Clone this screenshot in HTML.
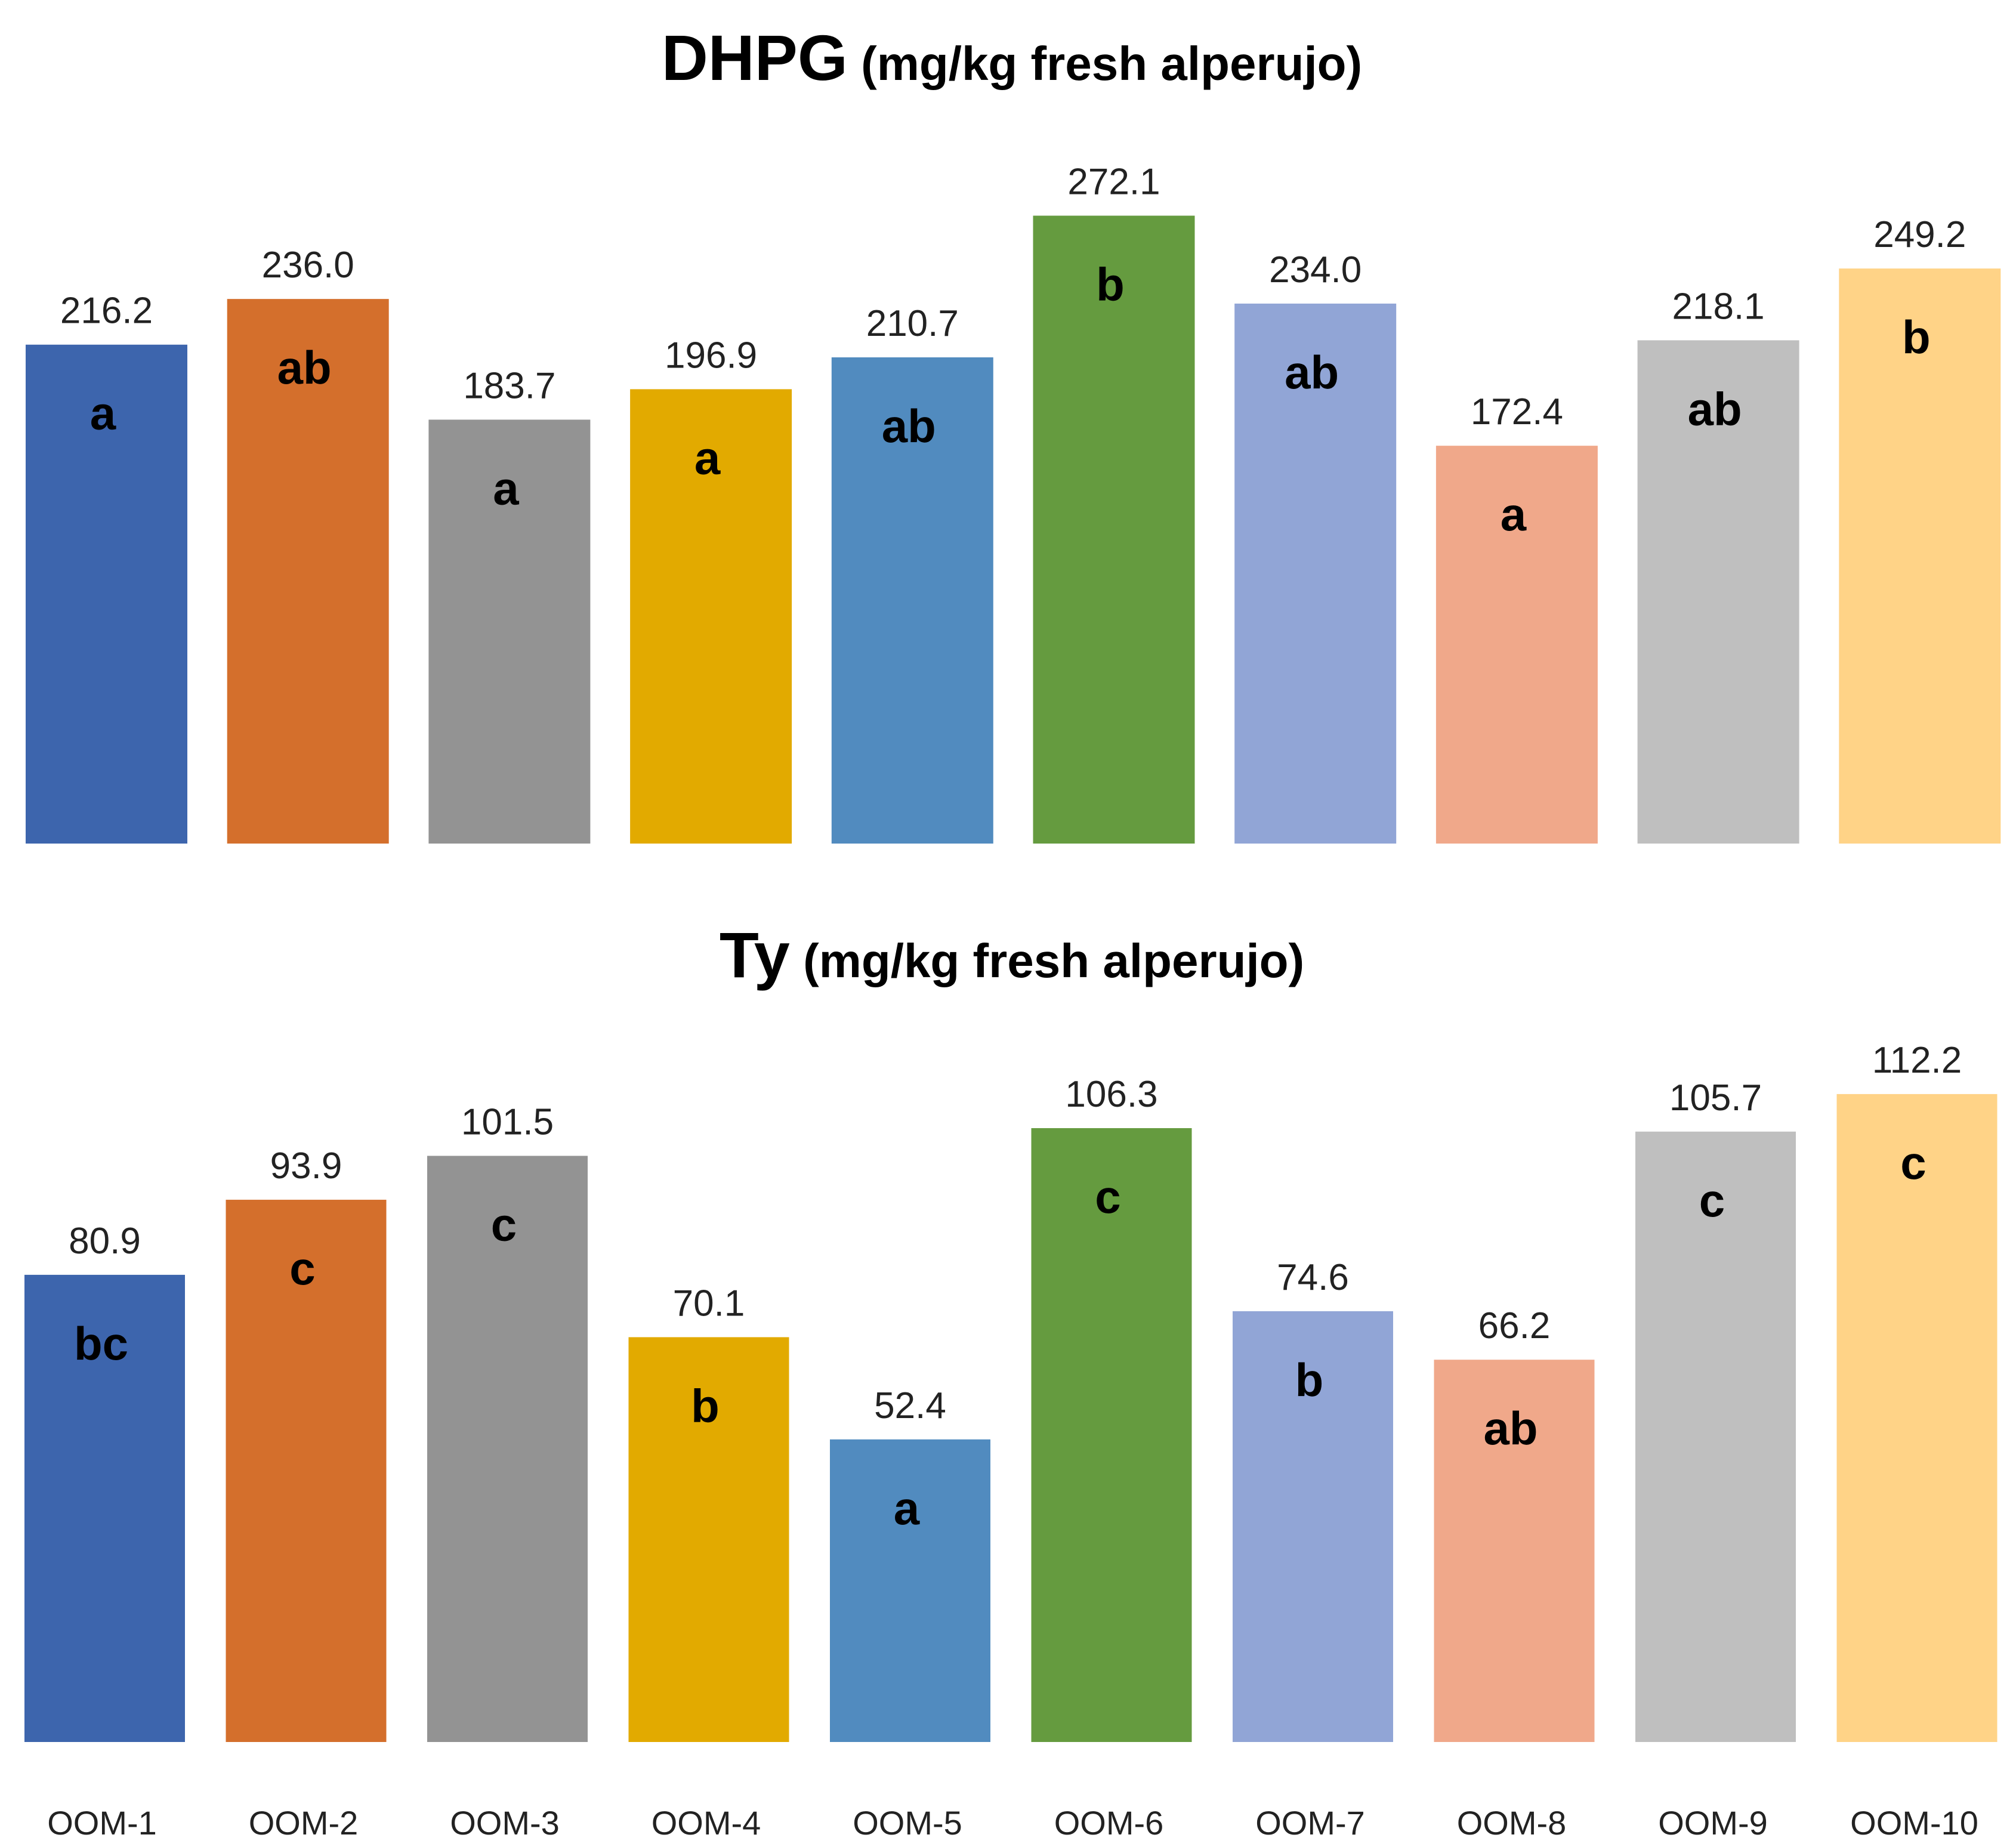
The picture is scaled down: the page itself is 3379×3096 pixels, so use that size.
<!DOCTYPE html>
<html><head><meta charset="utf-8"><style>
html,body{margin:0;padding:0;background:#fff}
svg{display:block}
text{font-family:"Liberation Sans",sans-serif}
</style></head><body>
<svg id="chart" width="3379" height="3096" viewBox="0 0 3379 3096" xmlns="http://www.w3.org/2000/svg">
<text x="1696" y="134" text-anchor="middle" font-weight="bold"><tspan font-size="108">DHPG</tspan><tspan font-size="80"> (mg/kg fresh alperujo)</tspan></text>
<text x="1696" y="1638" text-anchor="middle" font-weight="bold"><tspan font-size="108">Ty</tspan><tspan font-size="80"> (mg/kg fresh alperujo)</tspan></text>
<g id="top"></g>
<g id="bot"></g>
<g id="cats"></g>
</svg>
<script>
const categories = ["OOM-1","OOM-2","OOM-3","OOM-4","OOM-5","OOM-6","OOM-7","OOM-8","OOM-9","OOM-10"];
const dhpgValues = [216.2,236.0,183.7,196.9,210.7,272.1,234.0,172.4,218.1,249.2];
const dhpgLetters = ["a","ab","a","a","ab","b","ab","a","ab","b"];
const tyValues = [80.9,93.9,101.5,70.1,52.4,106.3,74.6,66.2,105.7,112.2];
const tyLetters = ["bc","c","c","b","a","c","b","ab","c","c"];
const colors = ["#3D65AD","#D46F2C","#939393","#E2AA00","#518BBF","#659B3F","#91A5D6","#F0A88A","#BFBFBF","#FFD387"];
const NS = "http://www.w3.org/2000/svg";
function mk(tag, attrs, parent){const e=document.createElementNS(NS,tag);for(const k in attrs)e.setAttribute(k,attrs[k]);parent.appendChild(e);return e;}
function drawPanel(gid, vals, letters, x0, pitch, w, base, scale, prefix){
  const g=document.getElementById(gid);
  const yOf=v=>base-v*scale;
  vals.forEach((v,i)=>{
    const x=x0+i*pitch, y=yOf(v);
    const r=mk('rect',{x:x,y:y,width:w,height:base-y,fill:colors[i]},g);
    
    
    const t=mk('text',{x:x+w/2,y:y-36,'text-anchor':'middle','font-size':62,fill:'#222'},g);
    t.textContent=v.toFixed(1);
    
    
    const l=mk('text',{x:x+w/2-6,y:y+142,'text-anchor':'middle','font-size':78,'font-weight':'bold',fill:'#000'},g);
    l.textContent=letters[i];
    
    
  });
}
drawPanel('top', dhpgValues, dhpgLetters, 43, 337.7, 271, 1414, 3.868, 'dhpg');
drawPanel('bot', tyValues, tyLetters, 41, 337.5, 269, 2920, 9.68, 'ty');
const cg=document.getElementById('cats');
categories.forEach((c,i)=>{
  const t=mk('text',{x:41+i*337.5+130,y:3075,'text-anchor':'middle','font-size':56,fill:'#222'},cg);
  t.textContent=c;
  
  
});
</script>
</body></html>
